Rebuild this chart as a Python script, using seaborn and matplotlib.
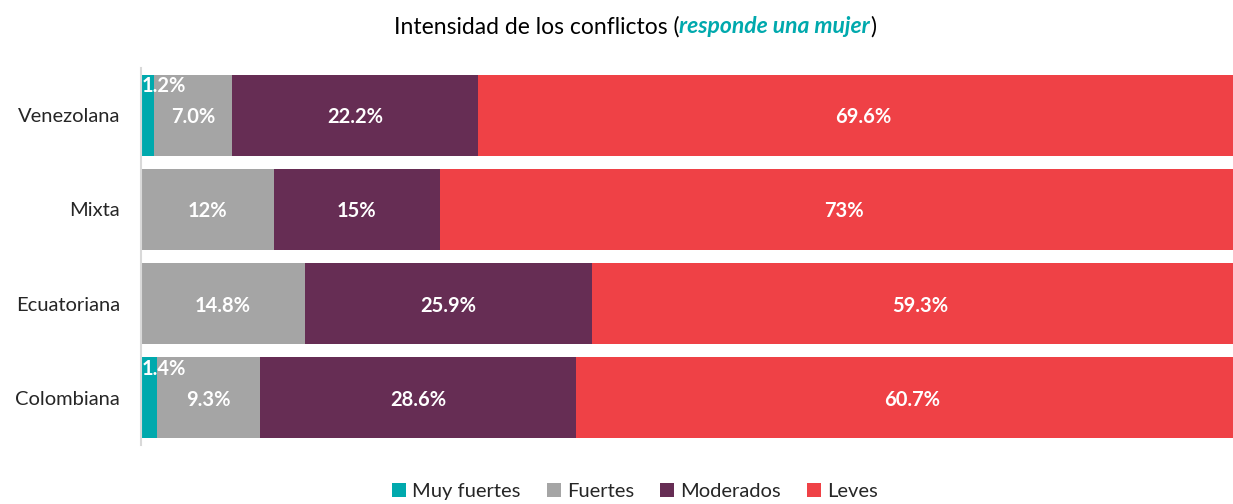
import numpy as np
import pandas as pd
import matplotlib
matplotlib.use("Agg")
import matplotlib.pyplot as plt
import seaborn as sns
from matplotlib.patches import Patch

# Data
groups = ["Venezolana", "Mixta", "Ecuatoriana", "Colombiana"]
muy_fuertes = [1.2, 0.0, 0.0, 1.4]
fuertes = [7.0, 12.0, 14.8, 9.3]
moderados = [22.2, 15.0, 25.9, 28.6]
leves = [69.6, 73.0, 59.3, 60.7]
decimals = [1, 0, 1, 1]

series_names = ["Muy fuertes", "Fuertes", "Moderados", "Leves"]
colors = ["#00A9AD", "#A5A5A5", "#662D54", "#EF4146"]

sns.set_style("white")
plt.rcParams["font.family"] = ["Lato", "DejaVu Sans"]

df = pd.DataFrame({
    "grupo": groups,
    "Muy fuertes": muy_fuertes,
    "Fuertes": fuertes,
    "Moderados": moderados,
    "Leves": leves,
})
values = df[series_names].to_numpy()
cum = np.cumsum(values, axis=1)

fig = plt.figure(figsize=(12.33, 5.04), dpi=100)
# the plot area runs a bit past the right edge of the picture, as in the original
ax = fig.add_axes([0.1144, 0.117, 0.898, 0.748])

# stacked bars: draw cumulative totals from the back to the front
for i in reversed(range(len(series_names))):
    sns.barplot(x=cum[:, i], y=df["grupo"], orient="h", color=colors[i],
                width=0.86, saturation=1, ax=ax, order=groups, linewidth=0)

ax.set_xlim(0, 100)
ax.set_xlabel("")
ax.set_ylabel("")
ax.set_xticks([])
ax.tick_params(axis="y", length=0, labelsize=14.5, pad=15)
for s in ["top", "right", "bottom"]:
    ax.spines[s].set_visible(False)
ax.spines["left"].set_color("#D9D9D9")
ax.spines["left"].set_linewidth(1.5)

# data labels
for r, g in enumerate(groups):
    for c in range(len(series_names)):
        v = values[r, c]
        if v <= 0:
            continue
        txt = f"{v:.{decimals[r]}f}%"
        start = cum[r, c] - v
        if v < 3:
            ax.text(start + 0.05, r - 0.31, txt, ha="left", va="center",
                    color="white", fontsize=14.5, fontweight="bold")
        else:
            ax.text(start + v / 2, r + 0.02, txt, ha="center", va="center",
                    color="white", fontsize=14.5, fontweight="bold")

# title with mixed styles
parts = [("Intensidad de los conflictos (", "black", "normal", "normal"),
         ("responde una mujer", "#00A9AD", "bold", "italic"),
         (")", "black", "normal", "normal")]
texts = []
x0 = 0.0
fig.canvas.draw()
renderer = fig.canvas.get_renderer()
for s, col, w, st in parts:
    t = fig.text(x0, 0.947, s, color=col, fontweight=w, fontstyle=st,
                 fontsize=16.5, ha="left", va="center")
    bb = t.get_window_extent(renderer)
    x0 += bb.width / fig.bbox.width
    texts.append(t)
shift = 0.515 - x0 / 2
for t in texts:
    t.set_x(t.get_position()[0] + shift)

handles = [Patch(facecolor=c, edgecolor="none", label=n) for c, n in zip(colors, series_names)]
fig.legend(handles=handles, loc="center", bbox_to_anchor=(0.515, 0.025), ncol=4,
           frameon=False, fontsize=14.5, handlelength=0.7, handleheight=0.7,
           handletextpad=0.3, columnspacing=1.3)

fig.savefig("out.png", dpi=100)
